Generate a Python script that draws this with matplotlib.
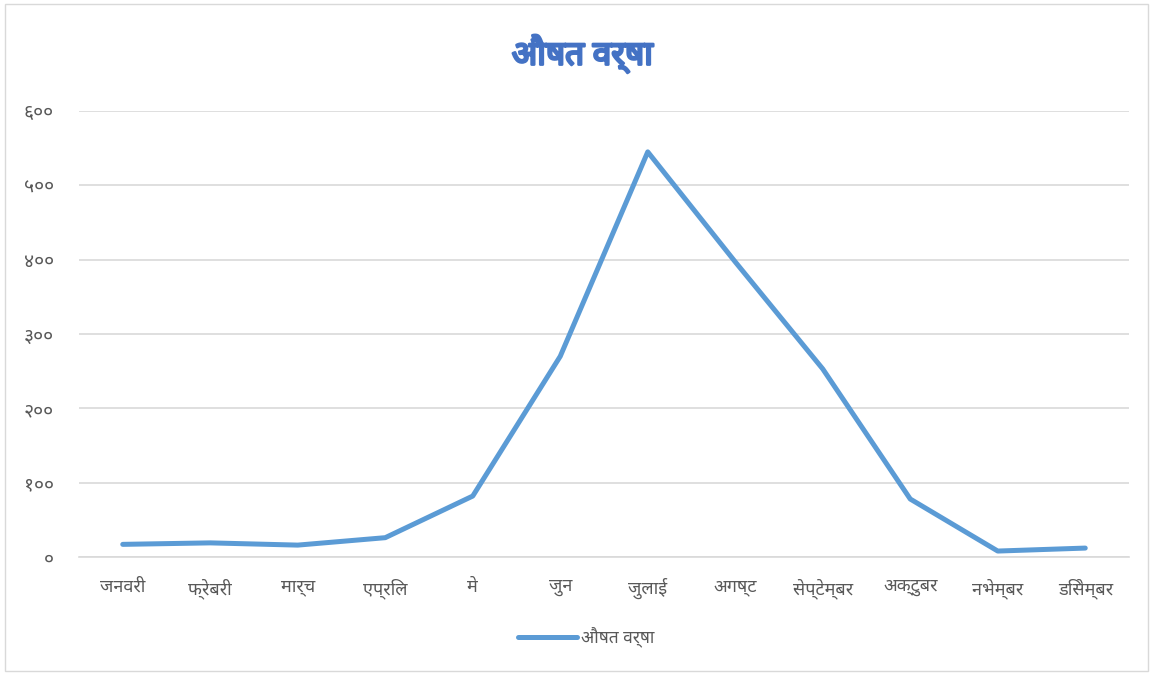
import matplotlib
matplotlib.use("Agg")
import matplotlib.pyplot as plt
import matplotlib.patheffects as pe
from matplotlib import font_manager

# data
months = ["जनवरी", "फ्रेबरी", "मार्च", "एप्रिल", "मे", "जुन", "जुलाई",
          "अगष्ट", "सेप्टेम्बर", "अक्टुबर", "नभेम्बर", "डिसेम्बर"]
rain = [17, 19, 16, 26, 82, 270, 545, 397, 253, 78, 8, 12]
yticks = [0, 100, 200, 300, 400, 500, 600]
title = "औषत वर्षा"

# pick a devanagari family that is installed
names = {f.name for f in font_manager.fontManager.ttflist}
prefer = ["Noto Sans Devanagari", "Hind", "Mukta", "Poppins", "Anek Devanagari", "FreeSans"]
deva = [n for n in prefer if n in names][:1]
plt.rcParams["font.family"] = deva + ["DejaVu Sans"]

digits = str.maketrans("0123456789", "०१२३४५६७८९")

fig = plt.figure(figsize=(11.53, 6.75), dpi=100)
fig.patches.append(plt.Rectangle((5/1153, 4/675), 1143/1153, 667/675, transform=fig.transFigure,
                                 fill=False, edgecolor="#D9D9D9", linewidth=1))
ax = fig.add_axes([79/1153, 118/675, 1050/1153, 446/675])

x = list(range(len(months)))
line, = ax.plot(x, rain, color="#5B9BD5", linewidth=3.6, solid_capstyle="round",
                solid_joinstyle="round", label=title)

ax.set_xlim(-0.5, len(months) - 0.5)
ax.set_ylim(0, 600)
ax.set_yticks(yticks)
ax.set_yticklabels([str(v).translate(digits) for v in yticks])
ax.set_xticks(x)
ax.set_xticklabels(months)
ax.tick_params(axis="both", length=0, colors="#595959", labelsize=13)
ax.tick_params(axis="y", labelsize=14, pad=18)
ax.tick_params(axis="x", pad=15)
ax.grid(axis="y", color="#D9D9D9", linewidth=1.2)
ax.set_axisbelow(True)
for s in ["top", "right", "left"]:
    ax.spines[s].set_visible(False)
ax.spines["bottom"].set_color("#D9D9D9")
ax.spines["bottom"].set_linewidth(1.2)

fig.text(0.505, 1 - 54/675, title, ha="center", va="center", fontsize=24,
         fontweight="bold", color="#4472C4",
         path_effects=[pe.withStroke(linewidth=1.8, foreground="#4472C4")])

leg = fig.legend(handles=[line], loc="center", bbox_to_anchor=(586/1153, 1 - 637/675),
                 frameon=False, fontsize=12.5, handlelength=3.4, handletextpad=0.2)
for t in leg.get_texts():
    t.set_color("#595959")

fig.savefig("out.png", dpi=100)
